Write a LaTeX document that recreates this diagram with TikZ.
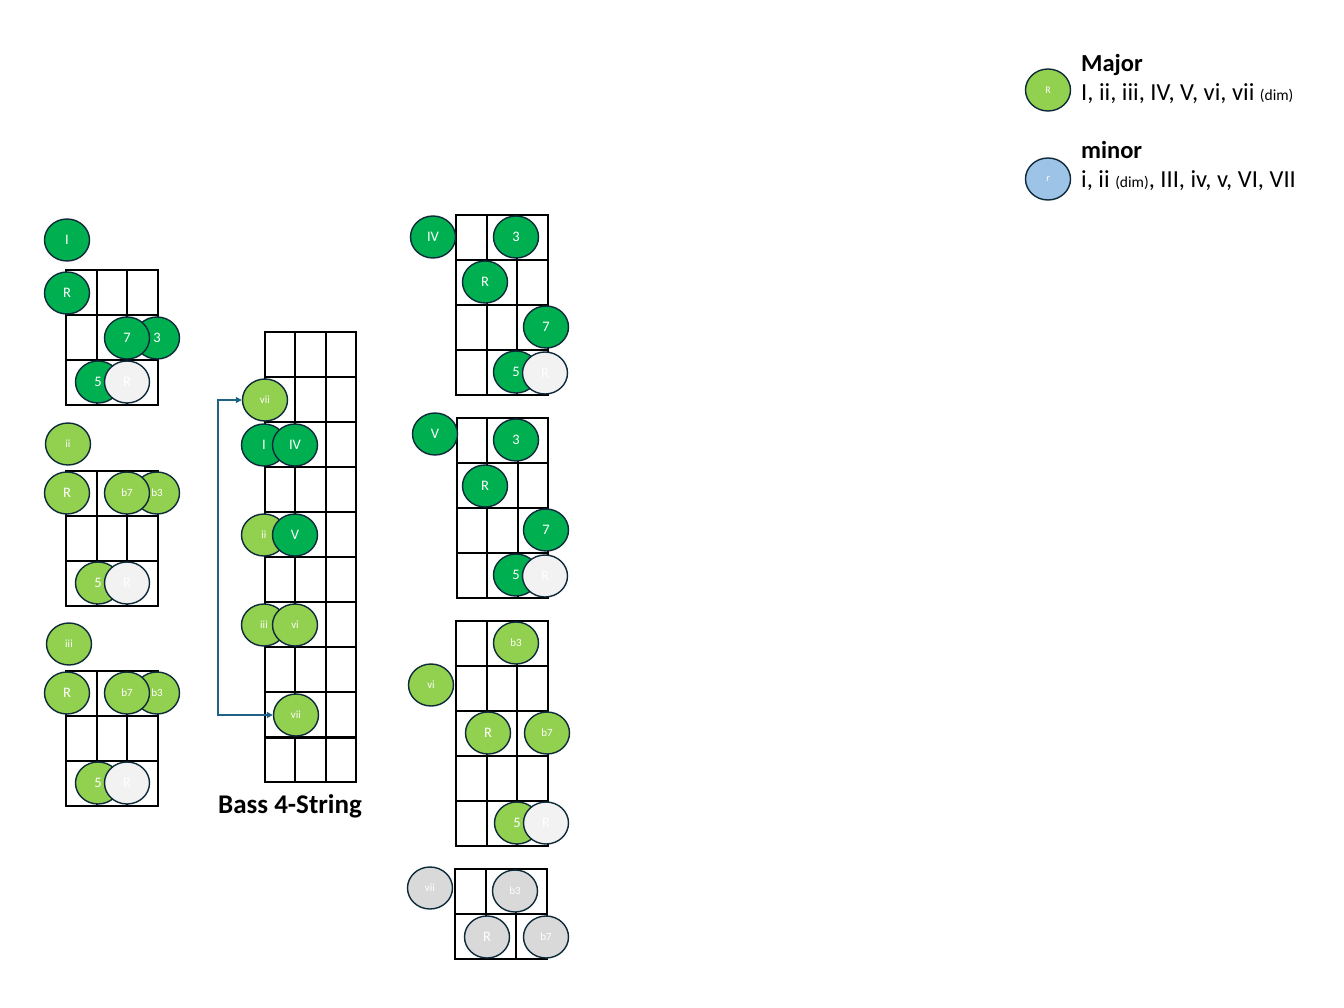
\documentclass[tikz,border=0pt]{standalone}
\usepackage{fontspec}
\setmainfont{Carlito}
\usetikzlibrary{shapes.geometric,arrows.meta}
\definecolor{majgreen}{HTML}{00B050}
\definecolor{mingreen}{HTML}{92D050}
\definecolor{octgrey}{HTML}{F2F2F2}
\definecolor{dimgrey}{HTML}{D9D9D9}
\definecolor{minblue}{HTML}{9DC3E6}
\definecolor{ring}{HTML}{0E2A3A}
\definecolor{jump}{HTML}{1F6285}
\tikzset{
  dot/.style={ellipse, draw=ring, line width=1.4pt, minimum width=45pt, minimum height=42pt, inner sep=0pt, text=white, font=\fontsize{14.5}{14.5}\selectfont},
  sm/.style={font=\fontsize{11}{11}\selectfont},
  maj/.style={dot, fill=majgreen},
  mnr/.style={dot, fill=mingreen},
  oct/.style={dot, fill=octgrey},
  dimd/.style={dot, fill=dimgrey},
  mblue/.style={dot, fill=minblue},
  fret/.style={line width=2pt, line cap=rect}
}
% grid of frets: x0, y0, columns, rows
\newcommand{\fretgrid}[4]{%
  \foreach \c in {0,...,#3} \draw[fret] ({#1+\c*30.5},#2) -- ++(0,{#4*45});
  \foreach \r in {0,...,#4} \draw[fret] (#1,{#2+\r*45}) -- ++({#3*30.5},0);
}
\begin{document}
\begin{tikzpicture}[x=1pt,y=-1pt]
            \useasboundingbox (0,0) rectangle (1344,1008);
            % grids
            \fretgrid{66}{270}{3}{3}
            \fretgrid{66}{470.5}{3}{3}
            \fretgrid{66}{670.5}{3}{3}
            \fretgrid{264.5}{332}{3}{10}
            \draw[line width=3pt] (264.5,737) -- ++(91.5,0);
            \fretgrid{456}{215}{3}{4}
            \fretgrid{456.5}{418}{3}{4}
            \fretgrid{456}{621}{3}{5}
            \fretgrid{455}{869}{3}{2}
            % I
            \node[maj] (chI) at (67,240) {I};
            \node[maj] (rtI) at (67,293) {R};
            \node[maj] (thI) at (157,338) {3};
            \node[maj] (svI) at (127,338) {7};
            \node[maj] (fiI) at (98,382) {5};
            \node[oct] (ocI) at (127,382) {R};
            % ii
            \node[mnr,sm] (chii) at (68,444) {ii};
            \node[mnr] (rtii) at (67,493) {R};
            \node[mnr,sm] (thii) at (157,493) {b3};
            \node[mnr,sm] (svii) at (127,493) {b7};
            \node[mnr] (fiii) at (98,583) {5};
            \node[oct] (ocii) at (127,583) {R};
            % iii
            \node[mnr,sm] (chiii) at (69,644) {iii};
            \node[mnr] (rtiii) at (67,693) {R};
            \node[mnr,sm] (thiii) at (157,693) {b3};
            \node[mnr,sm] (sviii) at (127,693) {b7};
            \node[mnr] (fiiii) at (98,783) {5};
            \node[oct] (ociii) at (127,783) {R};
            % bass neck
            \node[mnr,sm] (nkviiA) at (265,400) {vii};
            \node[maj] (nkI) at (264,445) {I};
            \node[maj] (nkIV) at (295,445) {IV};
            \node[mnr,sm] (nkii) at (264,535) {ii};
            \node[maj] (nkV) at (295,535) {V};
            \node[mnr,sm] (nkiii) at (264,625) {iii};
            \node[mnr,sm] (nkvi) at (295,625) {vi};
            \node[mnr,sm] (nkviiB) at (296,715) {vii};
            \draw[jump, line width=1.5pt, {Triangle[length=6pt,width=6pt]}-{Triangle[length=6pt,width=6pt]}] (nkviiA.west) -- ++(-24,0) |- (nkviiB.west);
            \node[font=\fontsize{27}{27}\selectfont\bfseries] (bass) at (290,806) {Bass 4-String};
            % IV
            \node[maj] (chIV) at (433,237) {IV};
            \node[maj] (thIV) at (516,237) {3};
            \node[maj] (rtIV) at (485,282) {R};
            \node[maj] (svIV) at (546,327) {7};
            \node[maj] (fiIV) at (516,372) {5};
            \node[oct] (ocIV) at (545,373) {R};
            % V
            \node[maj] (chV) at (435,434) {V};
            \node[maj] (thV) at (516,440) {3};
            \node[maj] (rtV) at (485,486) {R};
            \node[maj] (svV) at (546,530) {7};
            \node[maj] (fiV) at (516,575) {5};
            \node[oct] (ocV) at (545,576) {R};
            % vi
            \node[mnr,sm] (chvi) at (431,685) {vi};
            \node[mnr,sm] (thvi) at (516,643) {b3};
            \node[mnr] (rtvi) at (488,733) {R};
            \node[mnr,sm] (svvi) at (547,733) {b7};
            \node[mnr] (fivi) at (517,823) {5};
            \node[oct] (ocvi) at (546,823) {R};
            % vii
            \node[dimd,sm] (chvii) at (430,888) {vii};
            \node[dimd,sm] (thvii) at (515,891) {b3};
            \node[dimd] (rtvii) at (487,937) {R};
            \node[dimd,sm] (svvii) at (546,937) {b7};
            % legend
            \node[mnr,font=\fontsize{10}{10}\selectfont] (lgR) at (1048,90) {R};
            \node[mblue,font=\fontsize{10}{10}\selectfont] (lgr) at (1048,179) {r};
            \node[anchor=base west, inner sep=0pt, font=\fontsize{24.5}{24.5}\selectfont\bfseries] (lgMaj) at (1081,72) {Major};
            \node[anchor=base west, inner sep=0pt, font=\fontsize{24.5}{24.5}\selectfont] (lgMajT) at (1081,101) {I, ii, iii, IV, V, vi, vii {\fontsize{15.5}{15.5}\selectfont(dim)}};
            \node[anchor=base west, inner sep=0pt, font=\fontsize{24.5}{24.5}\selectfont\bfseries] (lgMin) at (1081,159) {minor};
            \node[anchor=base west, inner sep=0pt, font=\fontsize{24.5}{24.5}\selectfont] (lgMinT) at (1081,188) {i, ii {\fontsize{15.5}{15.5}\selectfont(dim)}, III, iv, v, VI, VII};
        \end{tikzpicture}
\end{document}
